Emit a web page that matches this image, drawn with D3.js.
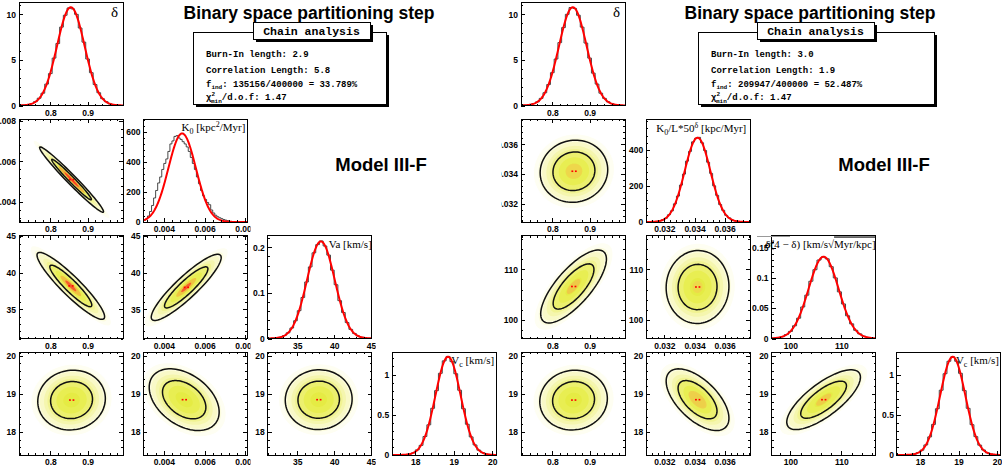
<!DOCTYPE html>
<html>
<head>
<meta charset="utf-8">
<script src="https://cdn.jsdelivr.net/npm/d3@7"></script>
<style>
  body { margin: 0; background: #fff; }
  svg { display: block; }
</style>
</head>
<body>
<div id="chart"></div>
<script>
// ---- values ----
// axis ranges and ticks of the parameters
const deltaRange = [0.716, 0.995], deltaTicks = [0.8, 0.9], deltaMinor = 0.02;
const k0Range = [0.0030, 0.0081], k0Ticks = [0.004, 0.006, 0.008], k0Minor = 0.0004;
const vaRange = [31, 45.1], vaTicks = [35, 40, 45], vaMinor = 1;
const vcRange = [17.4, 20.1], vcTicks = [18, 19, 20], vcMinor = 0.2;
const k0lRange = [0.0308, 0.0377], k0lTicks = [0.032, 0.034, 0.036], k0lMinor = 0.0004;
const vrRange = [96.3, 116.7], vrTicks = [100, 110], vrMinor = 2;

// 1D posteriors: histogram edges, bin contents, gaussian fit [mean, sigma, peak]
const deltaEdges = [0.715, 0.995];
const deltaCountsL = [0.01, 0.05, 0.1, 0.2, 0.42, 0.8, 1.35, 2.35, 3.5, 5.2, 6.8, 8.6, 9.9, 10.7,
  10.6, 10.0, 8.5, 6.95, 5.1, 3.6, 2.3, 1.4, 0.75, 0.42, 0.18, 0.1, 0.03, 0.01];
const deltaCountsR = [0.02, 0.04, 0.11, 0.21, 0.4, 0.78, 1.4, 2.3, 3.6, 5.1, 6.9, 8.55, 10.0, 10.75,
  10.65, 9.9, 8.6, 6.85, 5.2, 3.55, 2.35, 1.35, 0.78, 0.4, 0.2, 0.08, 0.04, 0.01];
const deltaFit = [0.855, 0.037, 10.78];
const deltaY = [0, 11.3], deltaYTicks = [0, 5, 10];

const k0Edges = [0.0029, 0.0072];
const k0Counts = [5, 10, 20, 40, 70, 110, 160, 210, 260, 300, 350, 390, 420, 470, 520, 540, 570, 575,
  560, 550, 535, 520, 500, 470, 430, 390, 350, 300, 255, 210, 175, 150, 130, 115, 80, 60, 45, 35, 28,
  22, 16, 12, 8];
const k0Fit = [0.0049, 0.000676, 590];
const k0Y = [0, 686], k0YTicks = [0, 200, 400, 600];

const vaEdges = [31, 45];
const vaCounts = [0.0002, 0.0006, 0.0015, 0.003, 0.0065, 0.0125, 0.023, 0.039, 0.061, 0.09, 0.124,
  0.157, 0.188, 0.206, 0.214, 0.203, 0.183, 0.15, 0.118, 0.083, 0.057, 0.035, 0.02, 0.011, 0.0055,
  0.0026, 0.0011, 0.0005];
const vaFit = [38.2, 1.87, 0.213];
const vaY = [0, 0.226], vaYTicks = [0, 0.1, 0.2];

const vcEdges = [17.4, 20.1];
const vcCountsL = [0, 0.001, 0.002, 0.005, 0.012, 0.026, 0.063, 0.12, 0.23, 0.375, 0.58, 0.8, 1.015,
  1.17, 1.225, 1.16, 1.01, 0.805, 0.575, 0.382, 0.225, 0.125, 0.06, 0.029, 0.01, 0.004, 0.001];
const vcCountsR = [0, 0.001, 0.001, 0.004, 0.011, 0.029, 0.06, 0.125, 0.225, 0.38, 0.575, 0.805, 1.01,
  1.165, 1.22, 1.165, 1.015, 0.8, 0.58, 0.377, 0.228, 0.122, 0.062, 0.027, 0.011, 0.005, 0.002];
const vcFit = [18.85, 0.327, 1.22];
const vcY = [0, 1.28], vcYTicks = [0, 0.5, 1];

const k0lEdges = [0.0308, 0.0376];
const k0lCounts = [0.3, 0.8, 1.5, 3.2, 6, 12.5, 21, 40, 62, 101, 144, 205, 266, 338, 392, 445, 465,
  470, 440, 397, 332, 270, 201, 148, 97, 65, 37, 23, 11, 6.5, 2.8, 1.5, 0.5, 0.3];
const k0lFit = [0.0342, 0.00085, 468];
const k0lY = [0, 572], k0lYTicks = [0, 200, 400];

const vrEdges = [96.4, 116.4];
const vrCounts = [0.0006, 0.0015, 0.003, 0.0065, 0.0117, 0.021, 0.0335, 0.052, 0.0715, 0.0945, 0.1135,
  0.1295, 0.1345, 0.1315, 0.1185, 0.1, 0.077, 0.057, 0.0375, 0.0242, 0.0135, 0.0076, 0.0037, 0.0018,
  0.0008];
const vrFit = [106.5, 2.95, 0.135];
const vrY = [0, 0.17], vrYTicks = [0, 0.05, 0.1, 0.15];

// 2D posteriors: [mean x, mean y, sigma x, sigma y, correlation]
const pairCells = [[0, 1], [0, 2], [1, 2], [0, 3], [1, 3], [2, 3]];
const leftEllipses = [
  [0.857, 0.0051, 0.035, 0.00066, -0.98],
  [0.855, 38.2, 0.037, 1.87, -0.92],
  [0.0051, 38.0, 0.0007, 1.85, 0.9],
  [0.857, 18.84, 0.037, 0.32, 0.05],
  [0.0050, 18.85, 0.0007, 0.33, -0.4],
  [37.9, 18.85, 1.85, 0.32, 0.02]
];
const rightEllipses = [
  [0.858, 0.0342, 0.037, 0.00085, 0.05],
  [0.857, 106.6, 0.036, 2.95, 0.75],
  [0.0342, 106.5, 0.00085, 2.95, 0.02],
  [0.857, 18.84, 0.037, 0.32, 0.05],
  [0.0342, 18.85, 0.00085, 0.33, -0.6],
  [106.5, 18.85, 2.95, 0.32, 0.75]
];

// chain analysis numbers
const leftChain = ["2.9", "5.8", "135156/400000 = 33.789%", "1.47"];
const rightChain = ["3.0", "1.9", "209947/400000 = 52.487%", "1.47"];

// ---- styles ----
const sansFont = "'Liberation Sans', Arial, Helvetica, sans-serif";
const serifFont = "'Liberation Serif', 'Times New Roman', serif";
const monoFont = "'Liberation Mono', 'Courier New', monospace";
const fillLevels = [[2.9, "#fefef2"], [2.6, "#fcfcde"], [2.3, "#f9f9c8"], [2.0, "#f5f6ae"],
  [1.75, "#f1f392"], [1.52, "#ecf06e"], [1.1, "#e8ee52"], [0.6, "#e5eb44"]];
const contourLevels = [1.52, 2.45];
const leftCores = [
  [[1.0, "#f0a838"], [0.55, "#ff2c1c"]],
  [[0.75, "#f0b840"], [0.4, "#f84a28"]],
  [[0.7, "#f0c040"], [0.35, "#f84a28"]],
  [], [], []
];
const rightCores = [
  [[0.6, "#f0d44c"]], [[0.5, "#f0c448"]], [[0.4, "#eed64c"]], [], [[0.7, "#efcb4a"]], [[0.5, "#f0c848"]]
];

const W = 1002, H = 466;
const svg = d3.select("#chart").append("svg")
  .attr("width", W).attr("height", H)
  .style("background", "#fff");
const defs = svg.append("defs");

function frameOf(half, col, row) {
  const x = half === 0 ? 19 + col * 124.4 : 521 + col * 125.3;
  return { x: x, y: 2.5 + row * 116.5, w: 104, h: 103 };
}
function padOf(half, col, row) {
  return { x: half * 501 + col * 125.25, y: row * 116.5, w: 125.25, h: 116.5 };
}

let clipCount = 0;
function clipRect(b) {
  const id = "clip" + (clipCount++);
  defs.append("clipPath").attr("id", id).append("rect")
    .attr("x", b.x).attr("y", b.y).attr("width", b.w).attr("height", b.h);
  return "url(#" + id + ")";
}

function ticksFor(domain, step) {
  const a = Math.ceil(domain[0] / step - 1e-9), b = Math.floor(domain[1] / step + 1e-9);
  return d3.range(a, b + 1).map(i => +(i * step).toPrecision(10));
}

const fmt = d3.format("~g");

function drawAxes(half, col, row, f, x, y, ax, ay, allSides) {
  const g = svg.append("g").attr("clip-path", clipRect(padOf(half, col, row)));
  const noDomain = s => s.select(".domain").remove();

  // minor ticks
  const minors = g.append("g").attr("shape-rendering", "crispEdges");
  const xm = ticksFor(x.domain(), ax.minor), ym = ticksFor(y.domain(), ay.minor);
  minors.append("g").attr("transform", `translate(0,${f.y + f.h})`)
    .call(d3.axisBottom(x).tickValues(xm).tickSize(-2).tickSizeOuter(0).tickFormat("")).call(noDomain);
  minors.append("g").attr("transform", `translate(${f.x},0)`)
    .call(d3.axisLeft(y).tickValues(ym).tickSize(-2).tickSizeOuter(0).tickFormat("")).call(noDomain);
  if (allSides) {
    minors.append("g").attr("transform", `translate(0,${f.y})`)
      .call(d3.axisTop(x).tickValues(xm).tickSize(-2).tickSizeOuter(0).tickFormat("")).call(noDomain);
    minors.append("g").attr("transform", `translate(${f.x + f.w},0)`)
      .call(d3.axisRight(y).tickValues(ym).tickSize(-2).tickSizeOuter(0).tickFormat("")).call(noDomain);
  }

  // major ticks with labels
  const bottom = g.append("g").attr("transform", `translate(0,${f.y + f.h})`)
    .call(d3.axisBottom(x).tickValues(ax.major).tickSize(-4).tickSizeOuter(0).tickPadding(4).tickFormat(fmt))
    .call(noDomain);
  const left = g.append("g").attr("transform", `translate(${f.x},0)`)
    .call(d3.axisLeft(y).tickValues(ay.major).tickSize(-4).tickSizeOuter(0).tickPadding(3).tickFormat(fmt))
    .call(noDomain);
  [bottom, left].forEach(a => a.attr("font-family", sansFont).attr("font-size", 8.5)
    .attr("font-weight", "bold").attr("shape-rendering", "crispEdges"));
  if (allSides) {
    g.append("g").attr("transform", `translate(0,${f.y})`).attr("shape-rendering", "crispEdges")
      .call(d3.axisTop(x).tickValues(ax.major).tickSize(-4).tickSizeOuter(0).tickFormat("")).call(noDomain);
    g.append("g").attr("transform", `translate(${f.x + f.w},0)`).attr("shape-rendering", "crispEdges")
      .call(d3.axisRight(y).tickValues(ay.major).tickSize(-4).tickSizeOuter(0).tickFormat("")).call(noDomain);
  }

  g.append("rect")
    .attr("x", f.x).attr("y", f.y).attr("width", f.w).attr("height", f.h)
    .attr("fill", "none").attr("stroke", "#000").attr("stroke-width", 1)
    .attr("shape-rendering", "crispEdges");
  return g;
}

function drawPair(half, cell, axes, ell, cores) {
  const [xi, yi] = cell;
  const f = frameOf(half, xi, yi);
  const ax = axes[xi], ay = axes[yi];
  const x = d3.scaleLinear().domain(ax.range).range([f.x, f.x + f.w]);
  const y = d3.scaleLinear().domain(ay.range).range([f.y + f.h, f.y]);
  const g = svg.append("g").attr("clip-path", clipRect(f));
  const [mx, my, sx, sy, rho] = ell;
  const path = d3.line().x(d => x(d[0])).y(d => y(d[1])).curve(d3.curveLinearClosed);
  const ring = k => d3.range(0, 360, 4).map(a => {
    const t = a * Math.PI / 180;
    return [mx + k * sx * Math.cos(t),
            my + k * sy * (rho * Math.cos(t) + Math.sqrt(1 - rho * rho) * Math.sin(t))];
  });

  fillLevels.forEach(([k, c]) => g.append("path").attr("d", path(ring(k))).attr("fill", c));
  cores.forEach(([k, c]) => g.append("path").attr("d", path(ring(k))).attr("fill", c).attr("opacity", 0.85));

  // the few maximum bins
  [-2.5, 1].forEach(dx => g.append("rect")
    .attr("x", x(mx) + dx).attr("y", y(my) - 0.8)
    .attr("width", 1.8).attr("height", 1.6).attr("fill", "#ff0000"));

  contourLevels.forEach(k => g.append("path").attr("d", path(ring(k)))
    .attr("fill", "none").attr("stroke", "#111").attr("stroke-width", 1.5)
    .attr("stroke-linejoin", "round"));

  drawAxes(half, xi, yi, f, x, y, ax, ay, true);
}

function drawHist(half, i, axes, h) {
  const f = frameOf(half, i, i);
  const ax = axes[i];
  const x = d3.scaleLinear().domain(ax.range).range([f.x, f.x + f.w]);
  const y = d3.scaleLinear().domain(h.yRange).range([f.y + f.h, f.y]);
  const g = svg.append("g").attr("clip-path", clipRect(f));

  const n = h.counts.length, bw = (h.edges[1] - h.edges[0]) / n;
  const pts = [[h.edges[0], 0]]
    .concat(h.counts.map((c, j) => [h.edges[0] + j * bw, c]))
    .concat([[h.edges[1], h.counts[n - 1]], [h.edges[1], 0]]);
  g.append("path")
    .attr("d", d3.line().x(d => x(d[0])).y(d => y(d[1])).curve(d3.curveStepAfter)(pts))
    .attr("fill", "none").attr("stroke", "#333").attr("stroke-width", 0.9);

  const [m, s, p] = h.fit;
  const xs = d3.range(201).map(k => ax.range[0] + (ax.range[1] - ax.range[0]) * k / 200);
  g.append("path")
    .attr("d", d3.line().x(v => x(v)).y(v => y(p * Math.exp(-0.5 * ((v - m) / s) ** 2)))(xs))
    .attr("fill", "none").attr("stroke", "#ff0000").attr("stroke-width", 2);

  drawAxes(half, i, i, f, x, y, ax, { major: h.yTicks, minor: h.yMinor }, false);

  const t = svg.append("text")
    .attr("x", f.x + f.w - 2).attr("y", f.y + 12)
    .attr("text-anchor", "end")
    .attr("font-family", serifFont).attr("font-size", 11).attr("fill", "#000");
  h.label(t, f);
}

function sub(t, s) { t.append("tspan").attr("dy", 3).attr("font-size", 8).text(s); }
function up(t) { return t.append("tspan").attr("dy", -3); }

// ---- left model ----
const leftAxes = [
  { range: deltaRange, major: deltaTicks, minor: deltaMinor },
  { range: k0Range, major: k0Ticks, minor: k0Minor },
  { range: vaRange, major: vaTicks, minor: vaMinor },
  { range: vcRange, major: vcTicks, minor: vcMinor }
];
const leftHists = [
  { edges: deltaEdges, counts: deltaCountsL, fit: deltaFit, yRange: deltaY, yTicks: deltaYTicks, yMinor: 1,
    label: (t, f) => t.attr("x", f.x + f.w - 5).attr("y", f.y + 14).attr("font-size", 15).text("δ") },
  { edges: k0Edges, counts: k0Counts, fit: k0Fit, yRange: k0Y, yTicks: k0YTicks, yMinor: 40,
    label: t => { t.append("tspan").text("K"); sub(t, "0");
      up(t).text(" [kpc"); t.append("tspan").attr("dy", -4).attr("font-size", 8).text("2");
      t.append("tspan").attr("dy", 4).text("/Myr]"); } },
  { edges: vaEdges, counts: vaCounts, fit: vaFit, yRange: vaY, yTicks: vaYTicks, yMinor: 0.02,
    label: (t, f) => t.attr("x", f.x + f.w).text("Va [km/s]") },
  { edges: vcEdges, counts: vcCountsL, fit: vcFit, yRange: vcY, yTicks: vcYTicks, yMinor: 0.1,
    label: t => { t.append("tspan").text("V"); sub(t, "c"); up(t).text(" [km/s]"); } }
];

// ---- right model ----
const rightAxes = [
  { range: deltaRange, major: deltaTicks, minor: deltaMinor },
  { range: k0lRange, major: k0lTicks, minor: k0lMinor },
  { range: vrRange, major: vrTicks, minor: vrMinor },
  { range: vcRange, major: vcTicks, minor: vcMinor }
];
const rightHists = [
  { edges: deltaEdges, counts: deltaCountsR, fit: deltaFit, yRange: deltaY, yTicks: deltaYTicks, yMinor: 1,
    label: (t, f) => t.attr("x", f.x + f.w - 5).attr("y", f.y + 14).attr("font-size", 15).text("δ") },
  { edges: k0lEdges, counts: k0lCounts, fit: k0lFit, yRange: k0lY, yTicks: k0lYTicks, yMinor: 40,
    label: (t, f) => { t.attr("x", f.x + f.w - 4).attr("y", f.y + 13);
      t.append("tspan").text("K"); sub(t, "0"); up(t).text("/L*50");
      t.append("tspan").attr("dy", -4).attr("font-size", 8).text("δ");
      t.append("tspan").attr("dy", 4).text(" [kpc/Myr]"); } },
  { edges: vrEdges, counts: vrCounts, fit: vrFit, yRange: vrY, yTicks: vrYTicks, yMinor: 0.01,
    label: (t, f) => { t.attr("x", f.x + f.w).attr("y", f.y + 12);
      t.append("tspan").text("σ");
      t.append("tspan").attr("dy", -4).attr("font-size", 7).text("2");
      t.append("tspan").attr("dy", 4).attr("dx", -9).text("δ(4 − δ) [km/s");
      t.append("tspan").text("√");
      t.append("tspan").attr("text-decoration", "overline").text("Myr/kpc]"); } },
  { edges: vcEdges, counts: vcCountsR, fit: vcFit, yRange: vcY, yTicks: vcYTicks, yMinor: 0.1,
    label: t => { t.append("tspan").text("V"); sub(t, "c"); up(t).text(" [km/s]"); } }
];

pairCells.forEach((c, i) => drawPair(0, c, leftAxes, leftEllipses[i], leftCores[i]));
leftHists.forEach((h, i) => drawHist(0, i, leftAxes, h));
pairCells.forEach((c, i) => drawPair(1, c, rightAxes, rightEllipses[i], rightCores[i]));
rightHists.forEach((h, i) => drawHist(1, i, rightAxes, h));

// grey stroke left above the third right-hand histogram
svg.append("line").attr("x1", 757).attr("x2", 790).attr("y1", 236.5).attr("y2", 236.5)
  .attr("stroke", "#999").attr("stroke-width", 1);

// ---- titles, chain analysis boxes ----
function header(cx, box, titleBox, vals) {
  svg.append("text").attr("x", cx).attr("y", 19).attr("text-anchor", "middle")
    .attr("font-family", sansFont).attr("font-weight", "bold").attr("font-size", 17.5)
    .text("Binary space partitioning step");

  const shadowBox = (b) => {
    svg.append("rect").attr("x", b.x + 3).attr("y", b.y + 3).attr("width", b.w).attr("height", b.h).attr("fill", "#000");
    svg.append("rect").attr("x", b.x).attr("y", b.y).attr("width", b.w).attr("height", b.h)
      .attr("fill", "#fff").attr("stroke", "#000").attr("stroke-width", 1).attr("shape-rendering", "crispEdges");
  };
  shadowBox(box);
  shadowBox(titleBox);
  svg.append("text").attr("x", titleBox.x + titleBox.w / 2).attr("y", titleBox.y + 13)
    .attr("text-anchor", "middle").attr("font-family", monoFont).attr("font-weight", "bold")
    .attr("font-size", 11.5).text("Chain analysis");

  const tx = box.x + 13;
  const line = (yy) => svg.append("text").attr("x", tx).attr("y", yy)
    .attr("font-family", monoFont).attr("font-weight", "bold").attr("font-size", 9);
  line(57).text("Burn-In length: " + vals[0]);
  line(73).text("Correlation Length: " + vals[1]);
  const f = line(87);
  f.append("tspan").text("f");
  f.append("tspan").attr("dy", 2).attr("font-size", 6).text("ind");
  f.append("tspan").attr("dy", -2).text(": " + vals[2]);
  const c = line(100);
  c.append("tspan").text("χ");
  c.append("tspan").attr("dy", -4).attr("font-size", 6).text("2");
  c.append("tspan").attr("dx", -4).attr("dy", 7).attr("font-size", 6).text("min");
  c.append("tspan").attr("dy", -3).text("/d.o.f: " + vals[3]);
}

header(309, { x: 193, y: 32, w: 193, h: 72 }, { x: 253, y: 22, w: 117, h: 17 }, leftChain);
header(810, { x: 698, y: 32, w: 236, h: 72 }, { x: 757, y: 22, w: 117, h: 17 }, rightChain);

[381, 884].forEach(cx => svg.append("text").attr("x", cx).attr("y", 171).attr("text-anchor", "middle")
  .attr("font-family", sansFont).attr("font-weight", "bold").attr("font-size", 18.5).text("Model III-F"));
</script>
</body>
</html>
